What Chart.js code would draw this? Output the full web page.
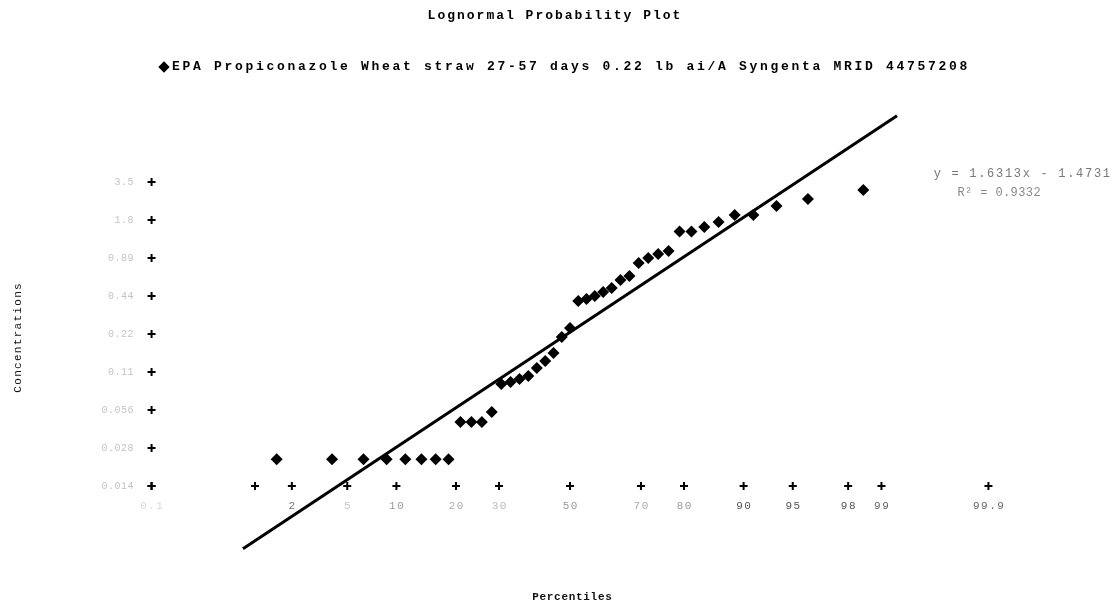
<!DOCTYPE html>
<html>
<head>
<meta charset="utf-8">
<title>Lognormal Probability Plot</title>
<script src="https://cdn.jsdelivr.net/npm/chart.js@4.4.1/dist/chart.umd.min.js"></script>
<style>
    body { margin: 0; background: #fff; }
    #wrap { width: 1115px; height: 603px; }
</style>
</head>
<body>
<div id="wrap"><canvas id="probChart" width="1115" height="603"></canvas></div>
<script>
const TITLE = 'Lognormal Probability Plot';
const SERIES_NAME = 'EPA Propiconazole Wheat straw 27-57 days 0.22 lb ai/A Syngenta MRID 44757208';
const EQUATION = 'y = 1.6313x - 1.4731';
const R_SQUARED = 'R\u00b2 = 0.9332';

// x axis: percentiles placed at their normal scores
const percentileLabels = ['0.1', '1', '2', '5', '10', '20', '30', '50', '70', '80', '90', '95', '98', '99', '99.9'];
const percentileZ = [-3.090, -2.326, -2.054, -1.645, -1.282, -0.842, -0.524, 0, 0.524, 0.842, 1.282, 1.645, 2.054, 2.300, 3.090];
const percentileColors = ['#d8d8d8', '#ffffff', '#777', '#c8c8c8', '#999', '#aaa', '#bbb', '#999', '#aaa', '#999', '#555', '#555', '#555', '#666', '#666'];

// y axis: ln(concentration)
const yTickValues = [-4.271, -3.579, -2.888, -2.196, -1.505, -0.813, -0.122, 0.570, 1.261];
const yTickLabels = ['0.014', '0.028', '0.056', '0.11', '0.22', '0.44', '0.89', '1.8', '3.5'];

// observations (normal score, ln concentration)
const obsZ = [-2.166, -1.757, -1.525, -1.354, -1.216, -1.097, -0.992, -0.897, -0.809, -0.728,
    -0.651, -0.578, -0.507, -0.439, -0.373, -0.308, -0.245, -0.183, -0.122, -0.061,
    0, 0.061, 0.122, 0.183, 0.245, 0.308, 0.373, 0.439, 0.507, 0.578,
    0.651, 0.728, 0.809, 0.897, 0.992, 1.097, 1.216, 1.354, 1.525, 1.757, 2.166];
const obsLn = [-3.785, -3.785, -3.785, -3.785, -3.785, -3.785, -3.785, -3.785, -3.106, -3.106,
    -3.106, -2.924, -2.414, -2.378, -2.323, -2.269, -2.123, -1.996, -1.850, -1.559,
    -1.395, -0.903, -0.867, -0.812, -0.739, -0.667, -0.521, -0.448, -0.212, -0.121,
    -0.048, 0.007, 0.360, 0.360, 0.444, 0.535, 0.662, 0.662, 0.826, 0.954, 1.118];

// fitted line end points
const trendZ = [-2.415, 2.415];
const trendLn = [-5.413, 2.467];

const MONO = '"Liberation Mono", "DejaVu Sans Mono", monospace';

function spacedText(ctx, text, x, y, font, color, spacing, align) {
    ctx.save();
    ctx.font = font;
    ctx.fillStyle = color;
    ctx.textBaseline = 'middle';
    ctx.letterSpacing = spacing + 'px';
    let w = ctx.measureText(text).width - spacing;
    let startX = x;
    if (align === 'center') startX = x - w / 2;
    if (align === 'right') startX = x - w;
    ctx.textAlign = 'left';
    ctx.fillText(text, startX, y);
    ctx.restore();
}

function drawPlus(ctx, x, y) {
    ctx.save();
    ctx.strokeStyle = '#000';
    ctx.lineWidth = 2;
    ctx.beginPath();
    ctx.moveTo(x - 4, y); ctx.lineTo(x + 4, y);
    ctx.moveTo(x, y - 4); ctx.lineTo(x, y + 4);
    ctx.stroke();
    ctx.restore();
}

const decorPlugin = {
    id: 'decor',
    beforeDatasetsDraw(chart) {
        const ctx = chart.ctx;
        const xs = chart.scales.x;
        const ys = chart.scales.y;
        const axisY = ys.getPixelForValue(yTickValues[0]);
        const axisX = xs.getPixelForValue(percentileZ[0]);

        percentileZ.forEach((z, i) => {
            const px = xs.getPixelForValue(z);
            drawPlus(ctx, px, axisY);
            spacedText(ctx, percentileLabels[i], px, axisY + 20, '11px ' + MONO, percentileColors[i], 1.5, 'center');
        });
        yTickValues.forEach((v, i) => {
            const py = ys.getPixelForValue(v);
            drawPlus(ctx, axisX, py);
            spacedText(ctx, yTickLabels[i], axisX - 18, py, '10px ' + MONO, '#c4c4c4', 0.5, 'right');
        });

        // titles
        spacedText(ctx, TITLE, 554, 16, 'bold 13px ' + MONO, '#000', 2, 'center');
        ctx.save();
        ctx.fillStyle = '#000';
        ctx.translate(164, 67);
        ctx.rotate(Math.PI / 4);
        ctx.fillRect(-4, -4, 8, 8);
        ctx.restore();
        spacedText(ctx, SERIES_NAME, 172, 67, 'bold 13px ' + MONO, '#000', 2.7, 'left');

        spacedText(ctx, 'Percentiles', 572, 597, 'bold 11px ' + MONO, '#111', 0.7, 'center');
        ctx.save();
        ctx.translate(18, 338);
        ctx.rotate(-Math.PI / 2);
        spacedText(ctx, 'Concentrations', 0, 0, '11px ' + MONO, '#111', 1.3, 'center');
        ctx.restore();

        spacedText(ctx, EQUATION, 1110, 174, '12px ' + MONO, '#777', 1.7, 'right');
        spacedText(ctx, R_SQUARED, 999, 193, '12px ' + MONO, '#888', 0.4, 'center');
    }
};

function crearGrafica() {
    const ctx = document.getElementById('probChart').getContext('2d');
    new Chart(ctx, {
        type: 'scatter',
        data: {
            datasets: [{
                label: SERIES_NAME,
                data: obsZ.map((z, i) => ({ x: z, y: obsLn[i] })),
                pointStyle: 'rectRot',
                pointRadius: 6,
                pointBackgroundColor: '#000',
                pointBorderColor: '#000',
                borderWidth: 0
            }, {
                label: 'Linear fit',
                type: 'line',
                data: trendZ.map((z, i) => ({ x: z, y: trendLn[i] })),
                borderColor: '#000',
                borderWidth: 3,
                pointRadius: 0,
                fill: false,
                tension: 0
            }]
        },
        options: {
            responsive: false,
            animation: false,
            layout: { padding: { left: 82.5, right: 57.5, top: 100, bottom: 13 } },
            scales: {
                x: { type: 'linear', min: -3.6, max: 3.6, display: false },
                y: { type: 'linear', min: -6.164, max: 2.755, display: false }
            },
            plugins: {
                legend: { display: false },
                title: { display: false },
                tooltip: { enabled: false }
            }
        },
        plugins: [decorPlugin]
    });
}

document.addEventListener('DOMContentLoaded', crearGrafica);
</script>
</body>
</html>
